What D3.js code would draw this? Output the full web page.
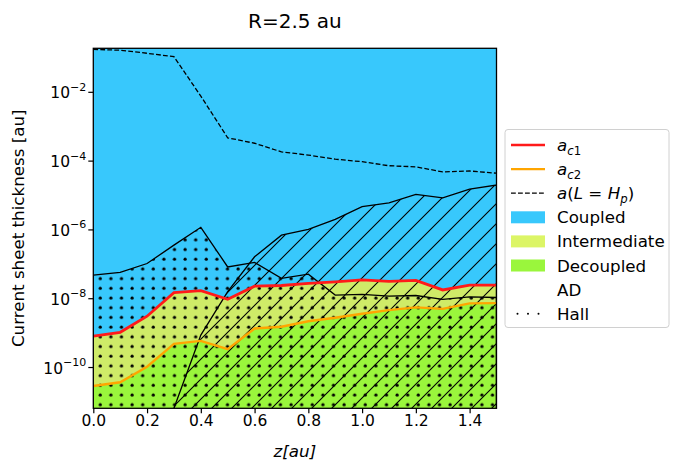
<!DOCTYPE html>
<html>
<head>
<meta charset="utf-8">
<script src="https://cdn.jsdelivr.net/npm/d3@7"></script>
<style>
  body { margin: 0; background: #fff; }
  text { font-family: "DejaVu Sans", sans-serif; fill: #000; }
</style>
</head>
<body>
<svg id="chart" width="680" height="463"></svg>
<script>
// z positions [au]
var zValues = [0, 0.1, 0.2, 0.3, 0.4, 0.5, 0.6, 0.7, 0.8, 0.9, 1.0, 1.1, 1.2, 1.3, 1.4, 1.5]

// critical thicknesses a_c1, a_c2 and a(L = H_p)  [au]
var ac1 = [7.9e-10, 1.02e-9, 3.0e-9, 1.45e-8, 1.66e-8, 9.3e-9, 2.24e-8, 2.34e-8, 2.7e-8, 3.0e-8, 3.4e-8, 3.1e-8, 3.3e-8, 1.74e-8, 2.4e-8, 2.4e-8]
var ac2 = [2.8e-11, 3.6e-11, 1.02e-10, 4.7e-10, 5.75e-10, 3.3e-10, 1.32e-9, 1.48e-9, 2.14e-9, 2.7e-9, 3.55e-9, 4.5e-9, 5.4e-9, 4.9e-9, 7.1e-9, 7.2e-9]
var aHp = [0.171, 0.162, 0.132, 0.105, 7.5e-3, 4.6e-4, 3.2e-4, 1.8e-4, 1.45e-4, 1.1e-4, 9.3e-5, 7.1e-5, 6.6e-5, 4.7e-5, 5.0e-5, 4.3e-5]

// upper limits of the Hall and ambipolar (AD) dominated regions
var hallTop = [4.7e-8, 5.6e-8, 1.02e-7, 3.5e-7, 1.15e-6, 8.1e-8, 1.1e-7, 3.8e-8, 5.0e-8, 1.23e-8, 1.29e-8, 1.15e-8, 1.2e-8, 9.3e-9, 1.1e-8, 1.05e-8]
var adTop = [null, null, null, 6.3e-12, 8.5e-10, 1.55e-8, 1.6e-7, 6.8e-7, 1.0e-6, 1.95e-6, 4.6e-6, 5.9e-6, 1.05e-5, 8.3e-6, 1.48e-5, 1.95e-5]

var xTicks = [0, 0.2, 0.4, 0.6, 0.8, 1.0, 1.2, 1.4]
var yTicks = [1e-2, 1e-4, 1e-6, 1e-8, 1e-10]
var yTickExponents = ['\u22122', '\u22124', '\u22126', '\u22128', '\u221210']

var colors = {
    coupled: '#38c8fc',
    intermediate: '#cfeb68',
    intermediateLegend: '#dcf566',
    decoupled: '#9af63c',
    ac1: '#ff1a1a',
    ac2: '#ffa500'
}

var margins = { top: 48.3, left: 93.3, width: 403.2, height: 360 }

var svg = d3.select('#chart')

var x = d3.scaleLinear().domain([0, 1.5]).range([margins.left, margins.left + margins.width])
var y = d3.scaleLog().domain([Math.pow(10, -11.2), Math.pow(10, -0.735)]).range([margins.top + margins.height, margins.top])

var bottomPx = margins.top + margins.height + 30,
    topPx = margins.top - 30

var defs = svg.append('defs')
defs.append('clipPath').attr('id', 'plotClip')
    .append('rect')
    .attr('x', margins.left).attr('y', margins.top)
    .attr('width', margins.width).attr('height', margins.height)

// hatch '/'
var hatchAD = defs.append('pattern').attr('id', 'hatchAD')
    .attr('patternUnits', 'userSpaceOnUse').attr('width', 20).attr('height', 20)
hatchAD.append('path')
    .attr('d', 'M0,20L20,0M-5,5L5,-5M15,25L25,15')
    .attr('stroke', '#000').attr('stroke-width', 1.1).attr('fill', 'none')

// hatch '.'
var hatchHall = defs.append('pattern').attr('id', 'hatchHall')
    .attr('patternUnits', 'userSpaceOnUse').attr('width', 10.6).attr('height', 9.7)
    .attr('x', margins.left + 2).attr('y', 2)
hatchHall.append('circle').attr('cx', 5).attr('cy', 5).attr('r', 1.6).attr('fill', '#000')

var plot = svg.append('g').attr('clip-path', 'url(#plotClip)')

function band(upper, lower) {
    return d3.area()
        .defined(function (d, i) { return upper[i] != null })
        .x(function (d) { return x(d) })
        .y0(function (d, i) { return lower == null ? bottomPx : lower === 'top' ? topPx : y(lower[i]) })
        .y1(function (d, i) { return y(upper[i]) })
}

function line(values) {
    return d3.line()
        .defined(function (d, i) { return values[i] != null })
        .x(function (d) { return x(d) })
        .y(function (d, i) { return y(values[i]) })
}

plot.append('rect')
    .attr('x', margins.left).attr('y', margins.top)
    .attr('width', margins.width).attr('height', margins.height)
    .attr('fill', '#fff')

plot.append('path').attr('d', band(ac1, 'top')(zValues)).attr('fill', colors.coupled)
plot.append('path').attr('d', band(ac1, ac2)(zValues)).attr('fill', colors.intermediate)
plot.append('path').attr('d', band(ac2, null)(zValues)).attr('fill', colors.decoupled)

// the AD band starts where the region enters the plot
var adZ = zValues.filter(function (d, i) { return adTop[i] != null }),
    adVals = adTop.filter(function (d) { return d != null })
var adArea = d3.area()
    .x(function (d) { return x(d) })
    .y0(bottomPx)
    .y1(function (d, i) { return y(adVals[i]) })
plot.append('path').attr('d', adArea(adZ))
    .attr('fill', 'url(#hatchAD)').attr('stroke', '#000').attr('stroke-width', 1.3)

plot.append('path').attr('d', band(hallTop, null)(zValues))
    .attr('fill', 'url(#hatchHall)').attr('stroke', '#000').attr('stroke-width', 1.3)

plot.append('path').attr('d', line(ac2)(zValues))
    .attr('fill', 'none').attr('stroke', colors.ac2).attr('stroke-width', 2.4)
plot.append('path').attr('d', line(ac1)(zValues))
    .attr('fill', 'none').attr('stroke', colors.ac1).attr('stroke-width', 2.8)
plot.append('path').attr('d', line(aHp)(zValues))
    .attr('fill', 'none').attr('stroke', '#000').attr('stroke-width', 1.3)
    .attr('stroke-dasharray', '4.8,2.2')

// frame
svg.append('rect')
    .attr('x', margins.left).attr('y', margins.top)
    .attr('width', margins.width).attr('height', margins.height)
    .attr('fill', 'none').attr('stroke', '#000').attr('stroke-width', 1.3)

// x axis
var xAxis = svg.append('g')
    .attr('transform', 'translate(0,' + (margins.top + margins.height) + ')')
    .call(d3.axisBottom(x).tickValues(xTicks).tickFormat(d3.format('.1f')).tickSize(5).tickPadding(1.5))
xAxis.select('.domain').remove()
xAxis.selectAll('line').attr('stroke', '#000').attr('stroke-width', 1.2)
xAxis.selectAll('text').attr('font-size', 15.5).attr('font-family', '"DejaVu Sans", sans-serif').attr('fill', '#000')

// y axis
var yAxis = svg.append('g')
    .attr('transform', 'translate(' + margins.left + ',0)')
    .call(d3.axisLeft(y).tickValues(yTicks).tickFormat('').tickSize(5))
yAxis.select('.domain').remove()
yAxis.selectAll('line').attr('stroke', '#000').attr('stroke-width', 1.2)
yAxis.selectAll('.tick').each(function (d, i) {
    var t = d3.select(this).append('text')
        .attr('x', -7).attr('y', 6)
        .attr('text-anchor', 'end').attr('font-size', 15.5)
    t.append('tspan').text('10')
    t.append('tspan').attr('dy', -7.5).attr('font-size', 11).text(yTickExponents[i])
})

// labels
svg.append('text').attr('x', margins.left + margins.width / 2).attr('y', 28).attr('text-anchor', 'middle')
    .attr('font-size', 20).text('R=2.5 au')
svg.append('text').attr('x', margins.left + margins.width / 2).attr('y', 457)
    .attr('text-anchor', 'middle').attr('font-size', 16.7).attr('font-style', 'italic')
    .text('z[au]')
svg.append('text')
    .attr('transform', 'translate(24,' + (margins.top + margins.height / 2) + ') rotate(-90)')
    .attr('text-anchor', 'middle').attr('font-size', 16.7)
    .text('Current sheet thickness [au]')

// legend
var legend = svg.append('g').attr('transform', 'translate(505,129.5)')
legend.append('rect').attr('width', 164).attr('height', 198).attr('rx', 3)
    .attr('fill', '#fff').attr('fill-opacity', 0.8).attr('stroke', '#d0d0d0').attr('stroke-width', 1)

var legendItems = [
    { kind: 'line', color: colors.ac1, width: 2.6 },
    { kind: 'line', color: colors.ac2, width: 2.4 },
    { kind: 'dash' },
    { kind: 'patch', color: colors.coupled, label: 'Coupled' },
    { kind: 'patch', color: colors.intermediateLegend, label: 'Intermediate' },
    { kind: 'patch', color: colors.decoupled, label: 'Decoupled' },
    { kind: 'none', label: 'AD' },
    { kind: 'dots', label: 'Hall' }
]

legendItems.forEach(function (item, i) {
    var cy = 15.5 + i * 24.1,
        g = legend.append('g').attr('transform', 'translate(0,' + cy + ')')
    if (item.kind === 'line')
        g.append('line').attr('x1', 6).attr('x2', 40).attr('stroke', item.color).attr('stroke-width', item.width)
    if (item.kind === 'dash')
        g.append('line').attr('x1', 6).attr('x2', 40).attr('stroke', '#000').attr('stroke-width', 1.2)
            .attr('stroke-dasharray', '4.8,2.2')
    if (item.kind === 'patch')
        g.append('rect').attr('x', 6).attr('y', -6).attr('width', 34).attr('height', 12).attr('fill', item.color)
    if (item.kind === 'dots')
        [12.5, 23, 33.5].forEach(function (dx) {
            g.append('circle').attr('cx', dx).attr('cy', 0).attr('r', 1).attr('fill', '#000')
        })

    var t = g.append('text').attr('x', 52).attr('y', 6).attr('font-size', 16.7)
    if (i === 0 || i === 1) {
        t.append('tspan').attr('font-style', 'italic').text('a')
        t.append('tspan').attr('dy', 4).attr('font-size', 11.7).attr('font-style', 'italic').text('c')
        t.append('tspan').attr('font-size', 11.7).text(i === 0 ? '1' : '2')
    } else if (i === 2) {
        t.append('tspan').attr('font-style', 'italic').text('a')
        t.append('tspan').text('(')
        t.append('tspan').attr('font-style', 'italic').text('L')
        t.append('tspan').text(' = ')
        t.append('tspan').attr('font-style', 'italic').text('H')
        t.append('tspan').attr('dy', 4).attr('font-size', 11.7).attr('font-style', 'italic').text('p')
        t.append('tspan').attr('dy', -4).text(')')
    } else {
        t.text(item.label)
    }
})
</script>
</body>
</html>
